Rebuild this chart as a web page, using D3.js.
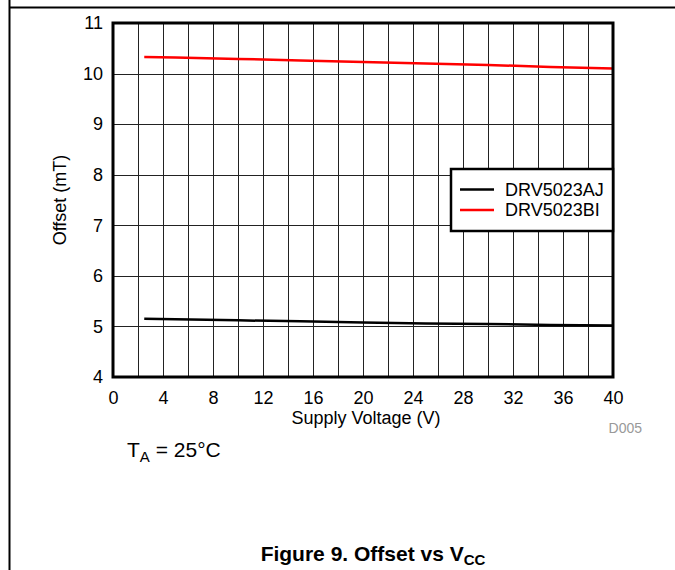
<!DOCTYPE html>
<html>
<head>
<meta charset="utf-8">
<title>Offset vs VCC</title>
<style>
  html, body { margin:0; padding:0; background:#fff; }
  svg { display:block; font-family:"Liberation Sans", Arial, sans-serif; }
  .tick text { font-size:18px; font-family:"Liberation Sans", Arial, sans-serif; fill:#000; }
</style>
</head>
<body>
<svg id="chart" width="675" height="570"></svg>
<script src="https://d3js.org/d3.v7.min.js"></script>
<script>
// data
const voltage   = [2.5, 5, 10, 15, 20, 25, 30, 35, 40];
const offsetAJ  = [5.15, 5.14, 5.12, 5.10, 5.08, 5.06, 5.05, 5.03, 5.02];
const offsetBI  = [10.33, 10.32, 10.29, 10.26, 10.23, 10.20, 10.17, 10.13, 10.10];
const seriesNames  = ["DRV5023AJ", "DRV5023BI"];
const seriesColors = ["#000000", "#ff0000"];
const xTicks = d3.range(0, 41, 4);
const yTicks = d3.range(4, 12, 1);

const svg = d3.select("#chart");
const L = 113, R = 613, T = 23, B = 377;

const x = d3.scaleLinear().domain([0, 40]).range([L, R]);
const y = d3.scaleLinear().domain([4, 11]).range([B, T]);

// page frame
svg.append("line").attr("x1", 9.5).attr("x2", 9.5).attr("y1", 0).attr("y2", 570)
  .attr("stroke", "#000").attr("stroke-width", 2);
svg.append("line").attr("x1", 9).attr("x2", 675).attr("y1", 7.5).attr("y2", 7.5)
  .attr("stroke", "#000").attr("stroke-width", 2);

// grid
const g = svg.append("g");
g.selectAll(".vg").data(d3.range(2, 40, 2)).join("line")
  .attr("x1", d => Math.round(x(d)) + 0.5).attr("x2", d => Math.round(x(d)) + 0.5)
  .attr("y1", T).attr("y2", B).attr("stroke", "#222").attr("stroke-width", 1);
g.selectAll(".hg").data(d3.range(5, 11, 1)).join("line")
  .attr("x1", L).attr("x2", R)
  .attr("y1", d => Math.round(y(d)) + 0.5).attr("y2", d => Math.round(y(d)) + 0.5)
  .attr("stroke", "#222").attr("stroke-width", 1);

// axes (labels only)
const xAxis = svg.append("g").attr("transform", `translate(0,${B})`)
  .call(d3.axisBottom(x).tickValues(xTicks).tickFormat(d3.format("d")).tickSize(0).tickPadding(14));
const yAxis = svg.append("g").attr("transform", `translate(${L},0)`)
  .call(d3.axisLeft(y).tickValues(yTicks).tickFormat(d3.format("d")).tickSize(0).tickPadding(10));
[xAxis, yAxis].forEach(a => a.select(".domain").remove());

// series
const line = d3.line().x(d => x(d[0])).y(d => y(d[1]));
[offsetAJ, offsetBI].forEach((vals, i) => {
  svg.append("path")
    .datum(voltage.map((v, k) => [v, vals[k]]))
    .attr("d", line).attr("fill", "none")
    .attr("stroke", seriesColors[i]).attr("stroke-width", 2.5);
});

// plot border
svg.append("rect").attr("x", L).attr("y", T).attr("width", R - L).attr("height", B - T)
  .attr("fill", "none").attr("stroke", "#000").attr("stroke-width", 3);

// legend
const lg = svg.append("g");
lg.append("rect").attr("x", 451).attr("y", 169).attr("width", 162).attr("height", 62)
  .attr("fill", "#fff").attr("stroke", "#000").attr("stroke-width", 2.5);
seriesNames.forEach((n, i) => {
  const yy = 189.5 + i * 20.5;
  lg.append("line").attr("x1", 460).attr("x2", 494).attr("y1", yy).attr("y2", yy)
    .attr("stroke", seriesColors[i]).attr("stroke-width", 2.5);
  lg.append("text").attr("x", 505).attr("y", yy + 6).attr("font-size", 18).text(n);
});

// axis titles
svg.append("text").attr("x", 366).attr("y", 424).attr("text-anchor", "middle")
  .attr("font-size", 18).text("Supply Voltage (V)");
svg.append("text").attr("transform", `translate(66,${(T + B) / 2}) rotate(-90)`)
  .attr("text-anchor", "middle").attr("font-size", 18).text("Offset (mT)");

// figure id
svg.append("text").attr("x", 642).attr("y", 433).attr("text-anchor", "end")
  .attr("font-size", 14).attr("fill", "#999").text("D005");

// condition note
const note = svg.append("text").attr("x", 127).attr("y", 457).attr("font-size", 21);
note.append("tspan").text("T");
note.append("tspan").attr("font-size", 15).attr("dy", 5).text("A");
note.append("tspan").attr("dy", -5).text(" = 25°C");

// caption
const cap = svg.append("text").attr("x", 373).attr("y", 561).attr("text-anchor", "middle")
  .attr("font-size", 21).attr("font-weight", "bold");
cap.append("tspan").text("Figure 9. Offset vs V");
cap.append("tspan").attr("font-size", 15).attr("dy", 4).text("CC");
</script>
</body>
</html>
